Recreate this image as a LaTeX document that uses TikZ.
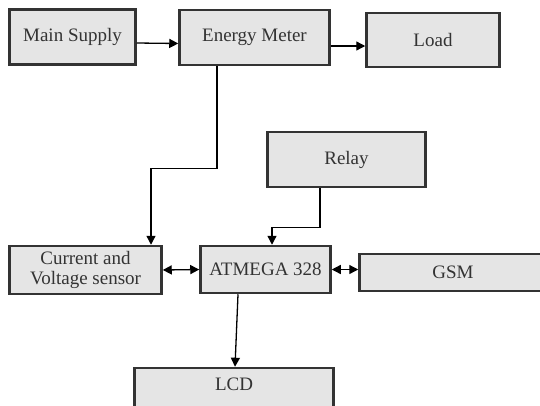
\documentclass[tikz,border=0pt]{standalone}
\usepackage{fontspec}
\setmainfont{Liberation Serif}
\usetikzlibrary{arrows.meta}
\tikzset{
  blk/.style={draw=black!80, line width=2.5pt, fill=black!10, text=black!80,
    font=\fontsize{19}{20}\selectfont, align=center, inner sep=0pt},
  arr/.style={line width=1.3pt, -{Triangle[length=9pt,width=9pt]}},
  darr/.style={line width=1.3pt, {Triangle[length=9pt,width=9pt]}-{Triangle[length=9pt,width=9pt]}}
}
\begin{document}
\begin{tikzpicture}[x=1pt,y=-1pt]
                \useasboundingbox (0,0) rectangle (540,405);
                \clip (0,0) rectangle (540,405);
                \node[blk, minimum width=126pt, minimum height=55pt] (main) at (72.5,37) {Main Supply};
                \node[blk, minimum width=150pt, minimum height=55pt] (energy) at (254.5,37.5) {Energy Meter};
                \node[blk, minimum width=133pt, minimum height=54pt] (load) at (433,40) {Load};
                \node[blk, minimum width=158pt, minimum height=55pt] (relay) at (346.5,159.5) {Relay};
                \node[blk, minimum width=152pt, minimum height=48pt] (sensor) at (85.5,270) {Current and\\Voltage sensor};
                \node[blk, minimum width=130pt, minimum height=47pt] (atmega) at (265.5,269.5) {ATMEGA 328};
                \node[blk, minimum width=187pt, minimum height=37pt] (gsm) at (453,272.5) {GSM};
                \node[blk, minimum width=199pt, minimum height=46pt] (lcd) at (234,391) {};
                \node[text=black!80, font=\fontsize{19}{20}\selectfont] (lcdtext) at (234,384) {LCD};
                \draw[arr] ([yshift=-6pt]main.east) -- ([yshift=-6pt]energy.west);
                \draw[arr] ([yshift=-8.5pt]energy.east) -- ([yshift=-6pt]load.west);
                \draw[arr] ([xshift=-37.5pt]energy.south) -- ++(0,102) -| ([xshift=65.5pt]sensor.north);
                \draw[arr] ([xshift=-26.5pt]relay.south) -- ++(0,39) -| ([xshift=6.5pt]atmega.north);
                \draw[darr] (sensor.east) -- (atmega.west);
                \draw[darr] (atmega.east) -- (gsm.west |- atmega.east);
                \draw[arr] ([xshift=-27.5pt]atmega.south) -- ([xshift=1pt]lcd.north);
\end{tikzpicture}
\end{document}
